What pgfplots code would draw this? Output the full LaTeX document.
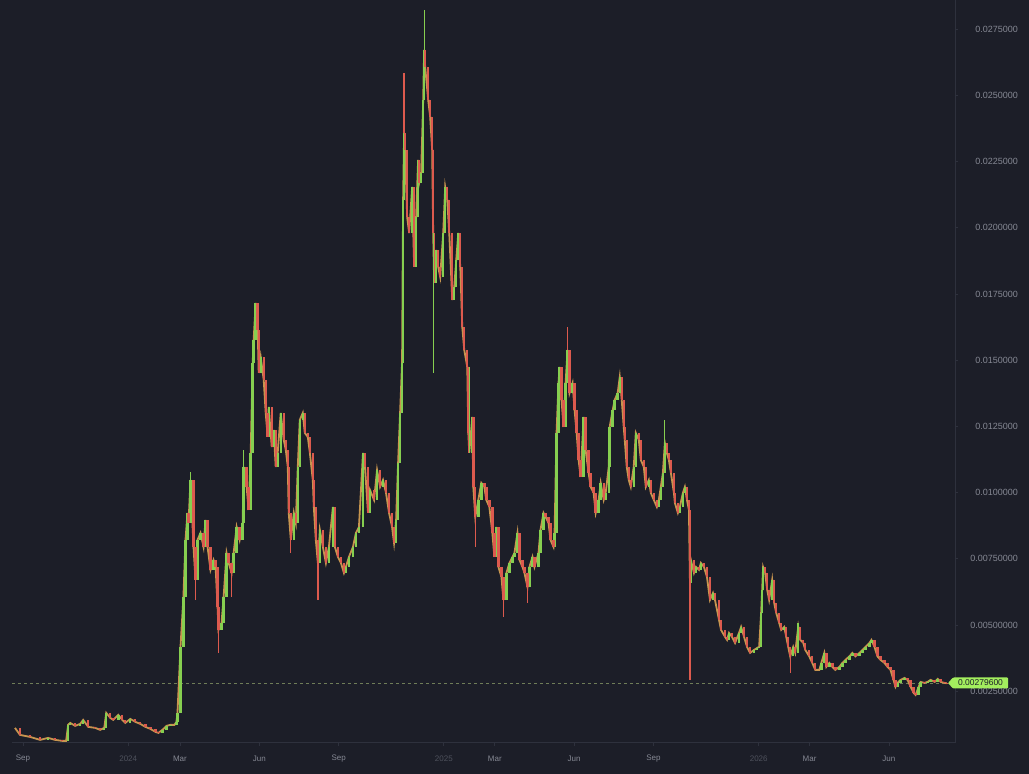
\documentclass[border=0pt]{standalone}
\usepackage{fontspec}
\setmainfont{Liberation Sans}
\usepackage{pgfplots}
\usepackage{pgfplotstable}
\pgfplotsset{compat=1.18}

\definecolor{bg}{HTML}{1C1E28}
\definecolor{up}{HTML}{86CF50}
\definecolor{down}{HTML}{DC5A4E}
\definecolor{mid}{HTML}{C7954F}
\definecolor{axisline}{HTML}{2E313D}
\definecolor{ticktext}{HTML}{858893}
\definecolor{yeartext}{HTML}{4E515C}
\definecolor{lastline}{HTML}{6F7D58}
\definecolor{lastbox}{HTML}{A3EE5E}

% x = days since 1 Sep 2023, o = open, c = close
\pgfplotstableread{
x o c
-9.3 0.001111 0.001111
-3.5 0.001111 0.000846
8.1 0.000846 0.000771
19.8 0.000771 0.000658
29.1 0.000658 0.000733
37.2 0.000733 0.000658
45.3 0.000658 0.000620
50.0 0.000620 0.000620
52.3 0.000620 0.001224
54.7 0.001224 0.001300
60.5 0.001300 0.001187
66.3 0.001187 0.001262
69.8 0.001262 0.001413
75.6 0.001413 0.001149
83.7 0.001149 0.001111
89.5 0.001111 0.001035
94.2 0.001035 0.001111
96.5 0.001111 0.001677
101.2 0.001677 0.001488
104.7 0.001488 0.001413
110.5 0.001413 0.001602
115.1 0.001602 0.001413
118.6 0.001413 0.001300
124.4 0.001300 0.001451
130.2 0.001451 0.001338
136.0 0.001338 0.001262
141.9 0.001262 0.001149
147.7 0.001149 0.001073
153.5 0.001073 0.000960
157.0 0.000960 0.000922
161.6 0.000922 0.001035
166.3 0.001035 0.001187
170.9 0.001187 0.001224
175.6 0.001224 0.001224
177.9 0.001224 0.001338
179.1 0.001338 0.001677
182.6 0.001677 0.004169
186.0 0.004169 0.006057
188.4 0.006057 0.008210
190.7 0.008210 0.009229
191.9 0.009229 0.008851
194.2 0.008851 0.010475
197.7 0.010475 0.007945
200.0 0.007945 0.006699
202.3 0.006699 0.008210
205.8 0.008210 0.008474
209.3 0.008474 0.007945
211.6 0.007945 0.008965
214.0 0.008965 0.007945
217.4 0.007945 0.007077
220.9 0.007077 0.007454
223.3 0.007454 0.007190
225.6 0.007190 0.005680
226.7 0.005680 0.004811
230.2 0.004811 0.005076
232.6 0.005076 0.006057
236.0 0.006057 0.007719
238.4 0.007719 0.007341
241.9 0.007341 0.006963
244.2 0.006963 0.007719
247.7 0.007719 0.008699
251.2 0.008699 0.008210
254.7 0.008210 0.008851
255.8 0.008851 0.010966
259.3 0.010966 0.010211
261.6 0.010211 0.009342
264.0 0.009342 0.011495
266.3 0.011495 0.014893
267.4 0.014893 0.015762
269.8 0.015762 0.017159
272.1 0.017159 0.016139
273.3 0.016139 0.014516
275.6 0.014516 0.015120
279.1 0.015120 0.014251
281.4 0.014251 0.013005
283.7 0.013005 0.012099
284.9 0.012099 0.013232
288.4 0.013232 0.011721
290.7 0.011721 0.012363
293.0 0.012363 0.010966
295.3 0.010966 0.011495
298.8 0.011495 0.013005
302.3 0.013005 0.011986
304.7 0.011986 0.011608
307.0 0.011608 0.010966
308.1 0.010966 0.009229
310.5 0.009229 0.008210
314.0 0.008210 0.009229
316.3 0.009229 0.008851
318.6 0.008851 0.010966
320.9 0.010966 0.012741
324.4 0.012741 0.013005
326.7 0.013005 0.012250
330.2 0.012250 0.012099
332.6 0.012099 0.011495
336.0 0.011495 0.010475
337.2 0.010475 0.009456
339.5 0.009456 0.008210
341.9 0.008210 0.007341
344.2 0.007341 0.008587
347.7 0.008587 0.007945
351.2 0.007945 0.007341
354.7 0.007341 0.007945
359.3 0.007945 0.009456
361.6 0.009456 0.007945
365.1 0.007945 0.007568
368.6 0.007568 0.007341
372.1 0.007341 0.006963
374.4 0.006963 0.007190
377.9 0.007190 0.007568
382.6 0.007568 0.007945
386.0 0.007945 0.008474
389.5 0.008474 0.008699
394.2 0.008699 0.011495
396.5 0.011495 0.010966
400.0 0.010966 0.009229
402.3 0.009229 0.010098
407.0 0.010098 0.009720
410.5 0.009720 0.010853
414.0 0.010853 0.010211
417.4 0.010211 0.010475
420.9 0.010475 0.009984
424.4 0.009984 0.009229
427.9 0.009229 0.008699
430.2 0.008699 0.008096
432.6 0.008096 0.008965
434.9 0.008965 0.011117
437.2 0.011117 0.013005
439.5 0.013005 0.014893
440.7 0.014893 0.021048
441.9 0.021048 0.023578
443.0 0.023578 0.022936
445.4 0.022936 0.020406
447.7 0.020406 0.019802
451.2 0.019802 0.021539
453.5 0.021539 0.018518
455.8 0.018518 0.020406
458.1 0.020406 0.022558
459.3 0.022558 0.021690
461.6 0.021690 0.022068
464.0 0.022068 0.024824
465.1 0.024824 0.026712
466.3 0.026712 0.026070
469.8 0.026070 0.024824
472.1 0.024824 0.024182
474.4 0.024182 0.022936
475.6 0.022936 0.019802
476.7 0.019802 0.017914
479.1 0.017914 0.019160
481.4 0.019160 0.018518
483.7 0.018518 0.018140
487.2 0.018140 0.019802
489.5 0.019802 0.021539
491.9 0.021539 0.021048
494.2 0.021048 0.019802
497.7 0.019802 0.017272
500.0 0.017272 0.017763
502.3 0.017763 0.018782
504.7 0.018782 0.019802
507.0 0.019802 0.018518
509.3 0.018518 0.016252
511.6 0.016252 0.015384
515.1 0.015384 0.014742
516.3 0.014742 0.012250
517.4 0.012250 0.011495
520.9 0.011495 0.012854
522.1 0.012854 0.010211
524.4 0.010211 0.009078
527.9 0.009078 0.009720
531.4 0.009720 0.010362
534.9 0.010362 0.010211
537.2 0.010211 0.009720
540.7 0.009720 0.009456
544.2 0.009456 0.008474
546.5 0.008474 0.007568
548.8 0.007568 0.008699
551.2 0.008699 0.007190
554.7 0.007190 0.006812
557.0 0.006812 0.005944
560.5 0.005944 0.006963
564.0 0.006963 0.007341
567.5 0.007341 0.007568
569.8 0.007568 0.007719
573.3 0.007719 0.008474
575.6 0.008474 0.007454
579.1 0.007454 0.007190
581.4 0.007190 0.006963
584.9 0.006963 0.006435
587.2 0.006435 0.007190
590.7 0.007190 0.007568
593.0 0.007568 0.007190
597.7 0.007190 0.007719
600.0 0.007719 0.008587
603.5 0.008587 0.009229
605.8 0.009229 0.009078
609.3 0.009078 0.008851
611.6 0.008851 0.008210
615.1 0.008210 0.007945
616.3 0.007945 0.008474
618.6 0.008474 0.012250
620.9 0.012250 0.014138
622.1 0.014138 0.014742
624.4 0.014742 0.013496
626.7 0.013496 0.012476
629.1 0.012476 0.014138
631.4 0.014138 0.015384
633.7 0.015384 0.013760
637.2 0.013760 0.014138
639.5 0.014138 0.013118
641.9 0.013118 0.012250
644.2 0.012250 0.011230
646.5 0.011230 0.010589
650.0 0.010589 0.012854
652.3 0.012854 0.011608
655.8 0.011608 0.010740
658.1 0.010740 0.010211
661.6 0.010211 0.009984
664.0 0.009984 0.009229
667.4 0.009229 0.009720
669.8 0.009720 0.010362
673.3 0.010362 0.009720
675.6 0.009720 0.009984
679.1 0.009984 0.010966
680.2 0.010966 0.012476
683.7 0.012476 0.013118
686.0 0.013118 0.013496
689.5 0.013496 0.013760
691.9 0.013760 0.014364
694.2 0.014364 0.013496
696.5 0.013496 0.012476
697.7 0.012476 0.011986
700.0 0.011986 0.010966
702.3 0.010966 0.010475
704.7 0.010475 0.010211
708.1 0.010211 0.010966
710.5 0.010966 0.012250
714.0 0.012250 0.011986
716.3 0.011986 0.011230
719.8 0.011230 0.010966
722.1 0.010966 0.010211
725.6 0.010211 0.010475
727.9 0.010475 0.009984
731.4 0.009984 0.009720
734.9 0.009720 0.009456
737.2 0.009456 0.009720
739.5 0.009720 0.010211
741.9 0.010211 0.010740
744.2 0.010740 0.011872
746.5 0.011872 0.011495
748.8 0.011495 0.011230
751.2 0.011230 0.010740
754.7 0.010740 0.009984
755.8 0.009984 0.009607
759.3 0.009607 0.009229
761.6 0.009229 0.009456
765.1 0.009456 0.009984
767.4 0.009984 0.010211
769.8 0.010211 0.009720
772.1 0.009720 0.009342
773.3 0.009342 0.006586
774.4 0.006586 0.007454
777.9 0.007454 0.006963
780.2 0.006963 0.007190
783.7 0.007190 0.007077
786.0 0.007077 0.007341
789.5 0.007341 0.007190
793.0 0.007190 0.006812
796.5 0.006812 0.005944
800.0 0.005944 0.006208
802.3 0.006208 0.005944
807.0 0.005944 0.005189
809.3 0.005189 0.004811
814.0 0.004811 0.004547
816.3 0.004547 0.004434
818.6 0.004434 0.004698
822.1 0.004698 0.004547
825.6 0.004547 0.004320
830.2 0.004320 0.004698
832.6 0.004698 0.004924
836.0 0.004924 0.004547
839.5 0.004547 0.004169
843.0 0.004169 0.003943
847.7 0.003943 0.004056
851.2 0.004056 0.004131
853.5 0.004131 0.004169
855.8 0.004169 0.005453
857.0 0.005453 0.006322
858.1 0.006322 0.007190
860.5 0.007190 0.006963
862.8 0.006963 0.006322
865.1 0.006322 0.005944
868.6 0.005944 0.006699
870.9 0.006699 0.005831
873.3 0.005831 0.005453
876.7 0.005453 0.005076
879.1 0.005076 0.004811
882.6 0.004811 0.004924
884.9 0.004924 0.004547
887.2 0.004547 0.004169
889.5 0.004169 0.003811
893.0 0.003811 0.004169
895.3 0.004169 0.003943
898.8 0.003943 0.004924
901.2 0.004924 0.004434
904.7 0.004434 0.004320
907.0 0.004320 0.004056
911.6 0.004056 0.003811
915.1 0.003811 0.003565
918.6 0.003565 0.003301
923.3 0.003301 0.003301
925.6 0.003301 0.003565
929.1 0.003565 0.003943
931.4 0.003943 0.003414
934.9 0.003414 0.003565
938.4 0.003565 0.003414
941.9 0.003414 0.003301
946.5 0.003301 0.003414
950.0 0.003414 0.003565
953.5 0.003565 0.003678
958.1 0.003678 0.003811
961.6 0.003811 0.003943
965.1 0.003943 0.003811
969.8 0.003811 0.003943
973.3 0.003943 0.004056
976.7 0.004056 0.004169
981.4 0.004169 0.004320
983.7 0.004320 0.004434
987.2 0.004434 0.004169
990.7 0.004169 0.003811
994.2 0.003811 0.003678
998.8 0.003678 0.003565
1002.3 0.003565 0.003414
1005.8 0.003414 0.003301
1009.3 0.003301 0.002923
1011.6 0.002923 0.002658
1014.0 0.002658 0.002809
1017.4 0.002809 0.002923
1022.1 0.002923 0.002999
1025.6 0.002999 0.002923
1029.1 0.002923 0.002658
1032.6 0.002658 0.002433
1034.9 0.002433 0.002357
1038.4 0.002357 0.002658
1040.7 0.002658 0.002847
1045.3 0.002847 0.002809
1048.8 0.002809 0.002847
1052.3 0.002847 0.002923
1057.0 0.002923 0.002847
1060.5 0.002847 0.002961
1064.0 0.002961 0.002847
1068.6 0.002847 0.002809
1071.0 0.002809 0.002796
}\candles

% long wicks
\pgfplotstableread{
x lo hi
194.2 0.010475 0.010777
255.8 0.010966 0.011608
465.6 0.026712 0.028222
475.9 0.014516 0.019802
517.8 0.011495 0.014742
744.0 0.011872 0.012741
898.6 0.004924 0.005076
}\upwicks

\pgfplotstableread{
x lo hi
200.0 0.005944 0.006699
226.7 0.003943 0.004811
241.9 0.006057 0.006963
310.5 0.007719 0.008210
341.9 0.005944 0.007341
441.6 0.023578 0.025843
524.4 0.007945 0.009078
557.0 0.005302 0.005944
584.9 0.005830 0.006435
631.6 0.015384 0.016252
773.3 0.002923 0.006586
889.5 0.003188 0.003811
}\downwicks

\pgfplotsset{
  candle/.style={draw=none, mark=none, mark size=0pt,
    error bars/.cd, y dir=plus, y explicit, error mark=none,
    error bar style={draw=#1, line width=2.4bp}},
  wick/.style={draw=none, mark=none, mark size=0pt,
    error bars/.cd, y dir=plus, y explicit, error mark=none,
    error bar style={draw=#1, line width=1.3bp}},
}

\begin{document}
\begin{tikzpicture}
\path[use as bounding box] (0,0) rectangle (1029bp,774bp);
\fill[bg] (0,0) rectangle (1029bp,774bp);

\begin{axis}[
    at={(12bp,31bp)}, anchor=south west,
    scale only axis, width=943bp, height=743bp,
    xmin=-12.75, xmax=1080.6,
    ymin=0.00054, ymax=0.0286,
    axis x line*=bottom, axis y line*=right,
    axis line style={draw=axisline, line width=1bp},
    xtick={0,122,182,274,366,488,547,639,731,853,912,1004},
    xticklabels={Sep,{\color{yeartext}2024},Mar,Jun,Sep,{\color{yeartext}2025},Mar,Jun,Sep,{\color{yeartext}2026},Mar,Jun},
    ytick={0.0025,0.005,0.0075,0.01,0.0125,0.015,0.0175,0.02,0.0225,0.025,0.0275},
    yticklabels={0.00250000,0.00500000,0.00750000,0.0100000,0.0125000,0.0150000,0.0175000,0.0200000,0.0225000,0.0250000,0.0275000},
    tick style={draw=axisline, line width=0.8bp},
    major tick length=3bp,
    tick align=outside,
    xticklabel style={font=\fontsize{8bp}{9bp}\selectfont, text=ticktext, anchor=center, yshift=-13bp},
    yticklabel style={font=\fontsize{9bp}{10bp}\selectfont, text=ticktext, anchor=east, inner sep=0pt, xshift=60bp},
]

% last price line
\addplot[lastline, dash pattern=on 3bp off 3bp, line width=1bp] coordinates {(-12.75,0.002796) (1075,0.002796)};

% close path under the candles
\addplot[mid, line width=1.8bp] table[x=x, y=c] {\candles};

% up candles
\addplot[restrict expr to domain={\thisrow{c}-\thisrow{o}}{0:1}, candle=up]
    table[x=x, y expr={min(\thisrow{o},\thisrow{c})}, y error plus expr={abs(\thisrow{c}-\thisrow{o})}] {\candles};

% down candles
\addplot[restrict expr to domain={\thisrow{c}-\thisrow{o}}{-1:0}, candle=down]
    table[x=x, y expr={min(\thisrow{o},\thisrow{c})}, y error plus expr={abs(\thisrow{c}-\thisrow{o})}] {\candles};

% wicks
\addplot[wick=up] table[x=x, y=lo, y error plus expr={\thisrow{hi}-\thisrow{lo}}] {\upwicks};
\addplot[wick=down] table[x=x, y=lo, y error plus expr={\thisrow{hi}-\thisrow{lo}}] {\downwicks};

\end{axis}

% last price tag
\fill[lastbox, rounded corners=1bp] (948bp,91bp) -- (953bp,96.5bp) -- (1008bp,96.5bp) -- (1008bp,85.5bp) -- (953bp,85.5bp) -- cycle;
\node[text=bg, font=\fontsize{8.5bp}{9bp}\selectfont, inner sep=0pt] at (980.5bp,91bp) {0.00279600};
\end{tikzpicture}
\end{document}
